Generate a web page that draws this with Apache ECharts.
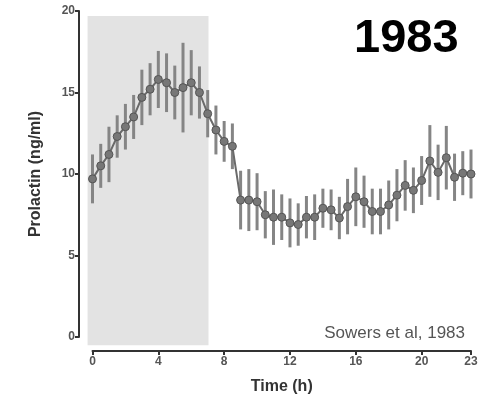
<!DOCTYPE html>
<html>
<head>
<meta charset="utf-8">
<script src="https://cdn.jsdelivr.net/npm/echarts@6/dist/echarts.min.js"></script>
<style>html,body{margin:0;padding:0;background:#fff}#c{width:495px;height:401px}</style>
</head>
<body>
<div id="c"></div>
<script>
var hours = [0,0.5,1,1.5,2,2.5,3,3.5,4,4.5,5,5.5,6,6.5,7,7.5,8,8.5,9,9.5,10,10.5,11,11.5,12,12.5,13,13.5,14,14.5,15,15.5,16,16.5,17,17.5,18,18.5,19,19.5,20,20.5,21,21.5,22,22.5,23];
var prolactin = [9.7,10.5,11.2,12.3,12.9,13.5,14.7,15.2,15.8,15.6,15.0,15.3,15.6,15.0,13.7,12.7,12.0,11.7,8.4,8.4,8.3,7.5,7.35,7.35,7.0,6.9,7.35,7.35,7.9,7.8,7.3,8.0,8.6,8.3,7.7,7.7,8.1,8.7,9.3,9.0,9.6,10.8,10.1,11.0,9.8,10.05,10.0];
var sem = [1.5,1.35,1.7,1.3,1.4,1.35,1.7,1.6,1.75,1.8,1.65,2.75,2.0,1.6,1.45,1.5,1.25,1.4,1.8,1.9,1.75,1.45,1.7,1.4,1.5,1.3,1.3,1.4,1.2,1.25,1.3,1.7,1.8,1.6,1.4,1.4,1.5,1.6,1.55,1.4,1.5,2.2,1.7,1.95,1.45,1.35,1.5];
var xTicks = [0,4,8,12,16,20,23];
var yTicks = [0,5,10,15,20];
var shadeX = [-0.3, 7.05];
var shadeY = [-0.5, 19.7];

var lineData = hours.map(function(h,i){return [h, prolactin[i]];});
var errData = hours.map(function(h,i){return [h, prolactin[i]-sem[i], prolactin[i]+sem[i]];});

var chart = echarts.init(document.getElementById('c'));
chart.setOption({
  animation:false,
  grid:{left:92.5, right:24, top:11, bottom:64},
  xAxis:{
    type:'value', min:0, max:23, offset:14,
    name:'Time (h)', nameLocation:'middle', nameGap:28,
    nameTextStyle:{fontFamily:'Liberation Sans', fontWeight:'bold', fontSize:16, color:'#333'},
    axisLine:{show:true, onZero:false, lineStyle:{color:'#333', width:2}},
    axisTick:{show:true, length:4, lineStyle:{color:'#333', width:2}, customValues:xTicks},
    axisLabel:{customValues:xTicks, fontFamily:'Liberation Sans', fontSize:12, fontWeight:'bold', color:'#555', margin:5},
    splitLine:{show:false}
  },
  yAxis:{
    type:'value', min:0, max:20, offset:13.5,
    name:'Prolactin (ng/ml)', nameLocation:'middle', nameGap:35, nameRotate:90,
    nameTextStyle:{fontFamily:'Liberation Sans', fontWeight:'bold', fontSize:16, color:'#333'},
    axisLine:{show:true, onZero:false, lineStyle:{color:'#333', width:2}},
    axisTick:{show:true, length:4, lineStyle:{color:'#333', width:2}, customValues:yTicks},
    axisLabel:{customValues:yTicks, fontFamily:'Liberation Sans', fontSize:12, fontWeight:'bold', color:'#555', margin:4},
    splitLine:{show:false}
  },
  series:[
    {
      type:'custom', clip:false, silent:true, z:1,
      renderItem:function(params, api){
        var p0 = api.coord([api.value(0), api.value(2)]);
        var p1 = api.coord([api.value(1), api.value(3)]);
        return {type:'rect', shape:{x:p0[0], y:p1[1], width:p1[0]-p0[0], height:p0[1]-p1[1]}, style:{fill:'#e3e3e3'}};
      },
      data:[[shadeX[0], shadeX[1], shadeY[0], shadeY[1]]]
    },
    {
      type:'custom', clip:false, silent:true, z:3,
      renderItem:function(params, api){
        var lo = api.coord([api.value(0), api.value(1)]);
        var hi = api.coord([api.value(0), api.value(2)]);
        return {type:'line', shape:{x1:lo[0], y1:lo[1], x2:hi[0], y2:hi[1]}, style:{stroke:'#858585', lineWidth:3}};
      },
      encode:{x:0, y:[1,2]},
      data:errData
    },
    {
      type:'line', data:lineData, z:4,
      lineStyle:{color:'#6a6a6a', width:2},
      symbol:'circle', symbolSize:8,
      itemStyle:{color:'#777', borderColor:'#555', borderWidth:1}
    }
  ],
  graphic:[
    {type:'text', left:354, top:16, style:{text:'1983', font:'bold 47px "Liberation Sans"', fill:'#000'}},
    {type:'text', right:30, top:325, style:{text:'Sowers et al, 1983', font:'17px "Liberation Sans"', fill:'#555'}}
  ]
});
</script>
</body>
</html>
